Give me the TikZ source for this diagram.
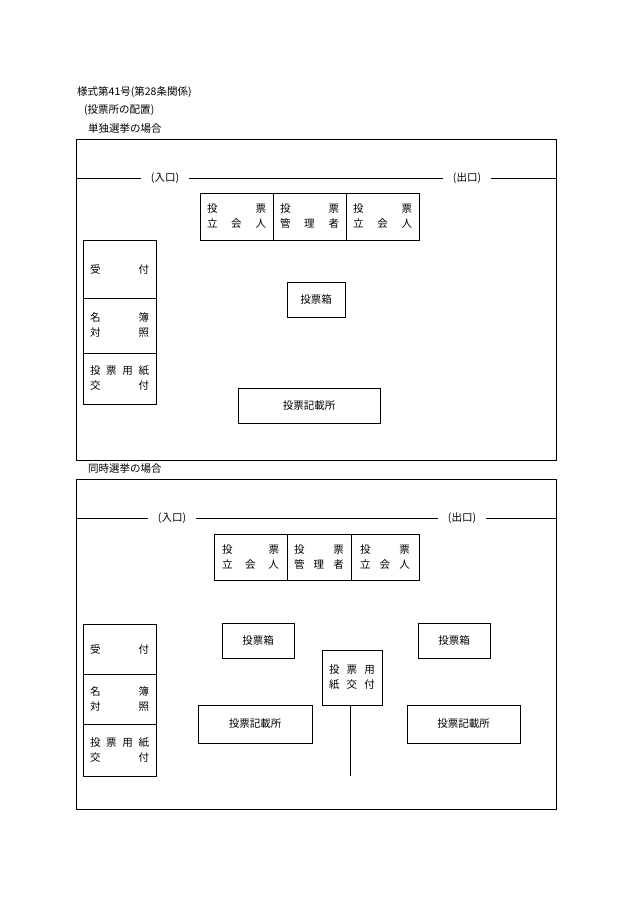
\documentclass[tikz,border=0pt]{standalone}
\usepackage{fontspec}
\newfontfamily\cjk{Noto Sans CJK JP}
\newcommand\jl[2]{\makebox[#1pt]{#2}}
\begin{document}
\begin{tikzpicture}[x=1pt,y=-1pt,
  bx/.style={draw,line width=0.6pt,inner sep=0pt,font=\cjk\fontsize{10.5}{15}\selectfont,align=center},
  tx/.style={inner sep=0pt,font=\cjk\fontsize{10.5}{13}\selectfont},
  ln/.style={line width=0.6pt}]
\useasboundingbox (0,0) rectangle (630,915);
\node[tx,anchor=west] (h1) at (77,92) {様式第41号(第28条関係)};
\node[tx,anchor=west] (h2) at (84,110) {(投票所の配置)};
\node[tx,anchor=west] (h3) at (88,129) {単独選挙の場合};
% section 1
\node[bx,minimum width=480,minimum height=321] (f1) at (316,299.5) {};
\node[tx] (in1) at (165,178) {(入口)};
\node[tx] (out1) at (467,178) {(出口)};
\coordinate (l1a) at (76,178); \coordinate (l1b) at (556,178);
\draw[ln] (l1a) -- ([xshift=-10]in1.west) ([xshift=10]in1.east) -- ([xshift=-10]out1.west) ([xshift=10]out1.east) -- (l1b);
\node[bx,minimum width=73,minimum height=47] (t1) at (236.5,216.5) {\jl{59}{投\hfill 票}\\\jl{59}{立\hfill 会\hfill 人}};
\node[bx,minimum width=73,minimum height=47] (t2) at (309.5,216.5) {\jl{59}{投\hfill 票}\\\jl{59}{管\hfill 理\hfill 者}};
\node[bx,minimum width=73,minimum height=47] (t3) at (382.5,216.5) {\jl{59}{投\hfill 票}\\\jl{59}{立\hfill 会\hfill 人}};
\node[bx,minimum width=73,minimum height=58] (u1) at (119.5,269) {\jl{59}{受\hfill 付}};
\node[bx,minimum width=73,minimum height=55] (u2) at (119.5,325.5) {\jl{59}{名\hfill 簿}\\\jl{59}{対\hfill 照}};
\node[bx,minimum width=73,minimum height=51] (u3) at (119.5,378.5) {\jl{59}{投\hfill 票\hfill 用\hfill 紙}\\\jl{59}{交\hfill 付}};
\node[bx,minimum width=58,minimum height=35] (b1) at (316,299.5) {投票箱};
\node[bx,minimum width=142,minimum height=35] (k1) at (309,405.5) {投票記載所};
% section 2
\node[tx,anchor=west] (h4) at (88,469) {同時選挙の場合};
\node[bx,minimum width=480,minimum height=330] (f2) at (316,644) {};
\node[tx] (in2) at (172,518) {(入口)};
\node[tx] (out2) at (462,518) {(出口)};
\coordinate (l2a) at (76,518); \coordinate (l2b) at (556,518);
\draw[ln] (l2a) -- ([xshift=-10]in2.west) ([xshift=10]in2.east) -- ([xshift=-10]out2.west) ([xshift=10]out2.east) -- (l2b);
\node[bx,minimum width=73,minimum height=46] (s1) at (250.5,557) {\jl{57}{投\hfill 票}\\\jl{57}{立\hfill 会\hfill 人}};
\node[bx,minimum width=64,minimum height=46] (s2) at (319,557) {\jl{50}{投\hfill 票}\\\jl{50}{管\hfill 理\hfill 者}};
\node[bx,minimum width=68,minimum height=46] (s3) at (385,557) {\jl{50}{投\hfill 票}\\\jl{50}{立\hfill 会\hfill 人}};
\node[bx,minimum width=73,minimum height=50] (v1) at (119.5,649) {\jl{59}{受\hfill 付}};
\node[bx,minimum width=73,minimum height=50] (v2) at (119.5,699) {\jl{59}{名\hfill 簿}\\\jl{59}{対\hfill 照}};
\node[bx,minimum width=73,minimum height=52] (v3) at (119.5,750) {\jl{59}{投\hfill 票\hfill 用\hfill 紙}\\\jl{59}{交\hfill 付}};
\node[bx,minimum width=72,minimum height=35] (b2) at (258,640.5) {投票箱};
\node[bx,minimum width=72,minimum height=35] (b3) at (454,640.5) {投票箱};
\node[bx,minimum width=60,minimum height=55] (c1) at (352,677.5) {\jl{46}{投\hfill 票\hfill 用}\\\jl{46}{紙\hfill 交\hfill 付}};
\coordinate (c1e) at (350,776);
\draw[ln] (c1.south -| c1e) -- (c1e);
\node[bx,minimum width=114,minimum height=38] (k2) at (255,724) {投票記載所};
\node[bx,minimum width=113,minimum height=38] (k3) at (463.5,724) {投票記載所};
\end{tikzpicture}
\end{document}
